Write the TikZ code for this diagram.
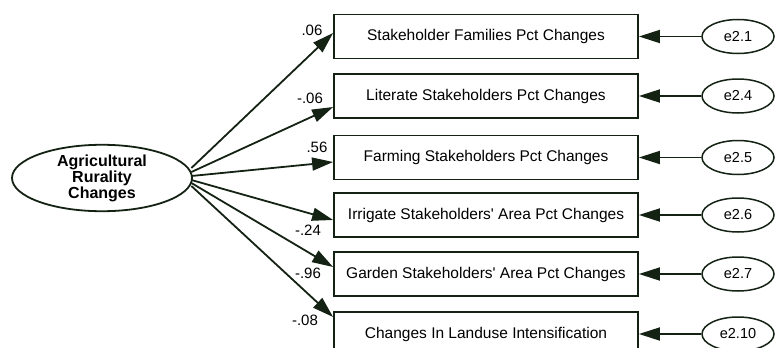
\documentclass[tikz,border=0pt]{standalone}
\usepackage{fontspec}
\setmainfont{Liberation Sans}
\usetikzlibrary{arrows.meta, shapes.geometric}
\definecolor{pathgreen}{RGB}{20,34,20}
\tikzset{obs/.style={draw=pathgreen, line width=1.8pt, minimum width=304pt, minimum height=44pt, inner sep=0pt, font=\fontsize{15.5}{17}\selectfont}}
\tikzset{err/.style={draw=pathgreen, ellipse, line width=1.5pt, minimum width=72pt, minimum height=34pt, inner sep=0pt, font=\fontsize{14.5}{16}\selectfont}}
\tikzset{lat/.style={draw=pathgreen, ellipse, line width=1.8pt, minimum width=180pt, minimum height=64pt, inner sep=0pt, align=center, font=\bfseries\fontsize{16}{16}\selectfont}}
\tikzset{path/.style={line width=1.8pt, pathgreen, -{Triangle[length=21pt,width=13pt]}}}
\tikzset{wt/.style={font=\fontsize{15}{17}\selectfont, inner sep=0pt}}

\begin{document}
\begin{tikzpicture}[x=1pt,y=-1pt]
        \useasboundingbox (0,0) rectangle (780,348);
        % Latent variable
        \node[lat] (rural) at (102,178) {Agricultural\\Rurality\\Changes};
        % Observed variables, errors and loadings
        \foreach \i/\y/\e/\s/\off/\lx/\ly/\w/\txt in {
          1/36.5/e2.1/-10/-3.5/312/30/.06/{Stakeholder Families Pct Changes},
          2/96/e2.4/-6/11/310/98/-.06/{Literate Stakeholders Pct Changes},
          3/157.5/e2.5/-2/4.5/317/147/.56/{Farming Stakeholders Pct Changes},
          4/215/e2.6/2/5/308/230/-.24/{Irrigate Stakeholders\textquotesingle{} Area Pct Changes},
          5/274/e2.7/5/-7/308/273/-.96/{Garden Stakeholders\textquotesingle{} Area Pct Changes},
          6/334/e2.10/8/-17/305/320/-.08/{Changes In Landuse Intensification}%
        } {
          \node[obs] (b\i) at (486,\y) {\txt};
          \node[err] (e\i) at (738,\y) {\e};
          \draw[path] (e\i) -- (b\i);
          \draw[path] ([xshift=-1.5pt,yshift=-\s pt]rural.east) -- ([yshift=-\off pt]b\i.west);
          \node[wt] (w\i) at (\lx,\ly) {\w};
        }
        \end{tikzpicture}
\end{document}
